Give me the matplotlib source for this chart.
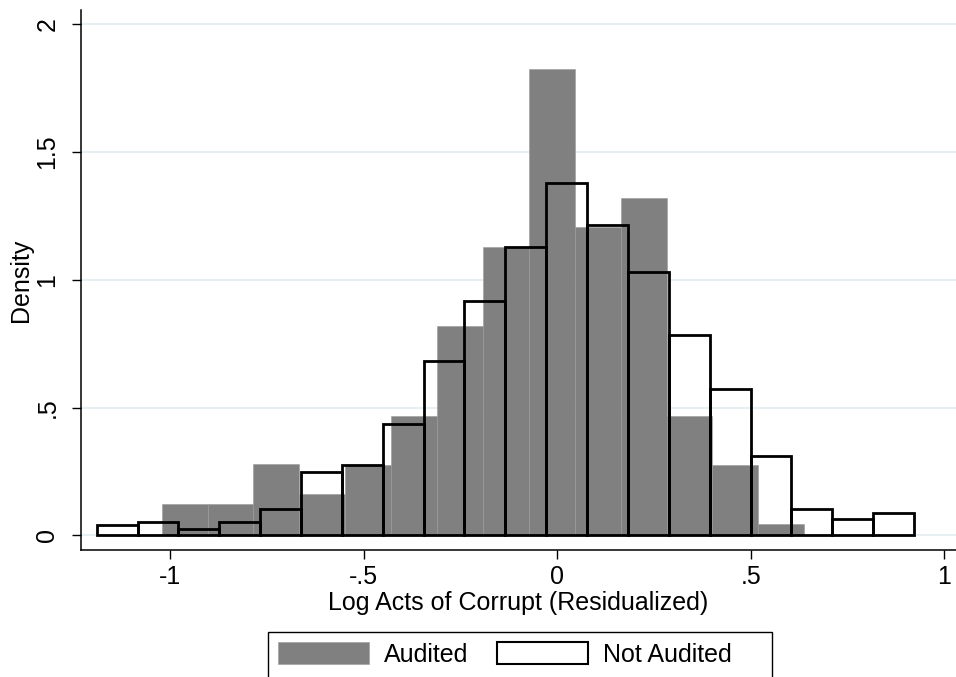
import numpy as np
import matplotlib
matplotlib.use("Agg")
import matplotlib.pyplot as plt
from matplotlib.patches import Patch, Rectangle

plt.rcParams['font.family'] = ['Liberation Sans', 'DejaVu Sans']

# Histogram data (density)
audited_start = -1.022
audited_width = 0.1186
audited_density = [0.122, 0.122, 0.279, 0.162, 0.276, 0.469, 0.817, 1.126,
                   1.822, 1.205, 1.320, 0.469, 0.276, 0.045]

not_audited_start = -1.190
not_audited_width = 0.1056
not_audited_density = [0.040, 0.054, 0.027, 0.052, 0.103, 0.250, 0.276, 0.436,
                       0.683, 0.918, 1.128, 1.376, 1.215, 1.029, 0.782, 0.572,
                       0.312, 0.103, 0.065, 0.089]

x_ticks = [-1, -0.5, 0, 0.5, 1]
x_tick_labels = ["-1", "-.5", "0", ".5", "1"]
y_ticks = [0, 0.5, 1, 1.5, 2]
y_tick_labels = ["0", ".5", "1", "1.5", "2"]

FS = 18
W, H = 956, 677

fig = plt.figure(figsize=(W/100, H/100), dpi=100)
ax = fig.add_axes([81/W, 127/H, 1 - 81/W, (667-127)/H])

a_left = audited_start + audited_width * np.arange(len(audited_density))
n_left = not_audited_start + not_audited_width * np.arange(len(not_audited_density))

ax.bar(a_left, audited_density, width=audited_width, align='edge',
       color='#808080', edgecolor='#9a9a9a', linewidth=0.4, zorder=2)
ax.bar(n_left, not_audited_density, width=not_audited_width, align='edge',
       fill=False, edgecolor='black', linewidth=2.0, zorder=3)

ax.set_xlim(-1.2305, 1.0305)
ax.set_ylim(-0.0567, 2.054)

ax.set_xticks(x_ticks)
ax.set_xticklabels(x_tick_labels, fontsize=FS)
ax.set_yticks(y_ticks)
ax.set_yticklabels(y_tick_labels, fontsize=FS, rotation=90, va='center')

ax.tick_params(axis='both', direction='out', length=6.5, width=1.0, color='black')
ax.tick_params(axis='x', pad=4)
ax.tick_params(axis='y', pad=9)

ax.yaxis.grid(True, color='#e4eef0', linewidth=1.3, zorder=0)
ax.set_axisbelow(True)

for s in ['top', 'right']:
    ax.spines[s].set_visible(False)
for s in ['left', 'bottom']:
    ax.spines[s].set_linewidth(1.1)
    ax.spines[s].set_color('black')

ax.set_xlabel("Log Acts of Corrupt (Residualized)", fontsize=FS, labelpad=2)
ax.set_ylabel("Density", fontsize=FS, labelpad=2)

handles = [Patch(facecolor='#808080', edgecolor='#9a9a9a', linewidth=0.4, label='Audited'),
           Patch(facecolor='white', edgecolor='black', linewidth=1.5, label='Not Audited')]
leg = fig.legend(handles=handles, loc='upper left', bbox_to_anchor=(268/W, 1 - 632/H),
                 ncol=2, fontsize=FS, frameon=False,
                 handlelength=3.64, handleheight=1.0, handletextpad=0.6,
                 columnspacing=1.15, borderpad=0.4, borderaxespad=0)

# legend frame (Stata-style wide box, running off the bottom edge)
fig.add_artist(Rectangle((268/W, -20/H), (772-268)/W, (677-632+20)/H,
                         transform=fig.transFigure, fill=False,
                         edgecolor='black', linewidth=1.0))

fig.savefig("out.png", dpi=100)
